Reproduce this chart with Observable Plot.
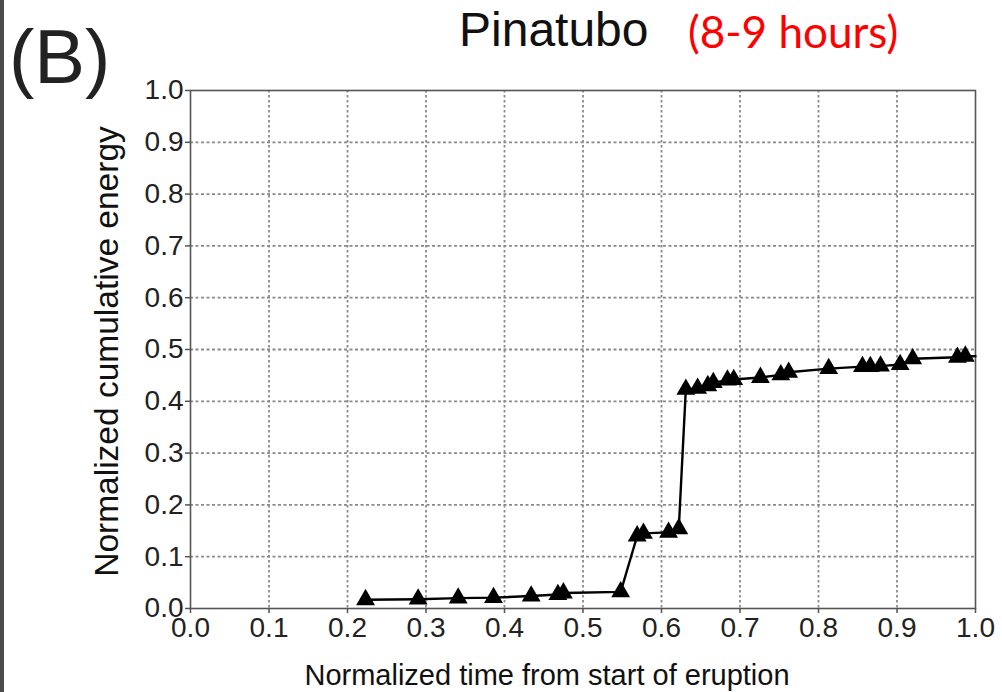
<!DOCTYPE html>
<html><head><meta charset="utf-8">
<script src="https://cdn.jsdelivr.net/npm/d3@7"></script>
<script src="https://cdn.jsdelivr.net/npm/@observablehq/plot@0.6"></script>
<style>
html,body{margin:0;padding:0;background:#fff}
body{width:1002px;height:692px;overflow:hidden;position:relative;font-family:"Liberation Sans",Arial,sans-serif}
#strip{position:absolute;left:0;top:0;width:4px;height:692px;background:#4b4b4b}
.t{position:absolute;white-space:nowrap;line-height:1}
#panel{left:9px;top:19px;font-size:76px;color:#222}
#title{left:459px;top:6px;font-size:48px;color:#111}
#sub{left:688px;top:9px;font-size:44px;color:#ff0000;font-family:Lato,"Open Sans",sans-serif}
#chart{position:absolute;left:0;top:0}
</style>
</head><body>
<div id="chart"></div>
<div id="strip"></div>
<div class="t" id="panel">(B)</div>
<div class="t" id="title">Pinatubo</div>
<div class="t" id="sub">(8-9 hours)</div>
<script>
// Data
const timeValues = [0.223, 0.290, 0.341, 0.386, 0.434, 0.468, 0.475, 0.548,
  0.569, 0.577, 0.609, 0.622,
  0.631, 0.646, 0.659, 0.666, 0.684, 0.692, 0.726, 0.752, 0.762, 0.813,
  0.856, 0.866, 0.879, 0.904, 0.920, 0.977, 0.987];
const energyValues = [0.017, 0.018, 0.020, 0.021, 0.024, 0.027, 0.030, 0.032,
  0.140, 0.145, 0.147, 0.154,
  0.423, 0.425, 0.430, 0.436, 0.441, 0.442, 0.446, 0.451, 0.456, 0.463,
  0.467, 0.467, 0.468, 0.471, 0.482, 0.485, 0.487];
const lineEndTime = 1.0;
const lineEndEnergy = 0.487;
const tickValues = [0, 0.1, 0.2, 0.3, 0.4, 0.5, 0.6, 0.7, 0.8, 0.9, 1.0];
const gridValues = [0.1, 0.2, 0.3, 0.4, 0.5, 0.6, 0.7, 0.8, 0.9];
const xLabel = "Normalized time from start of eruption";
const yLabel = "Normalized cumulative energy";

const points = timeValues.map((t, i) => ({t, e: energyValues[i]}));
const linePts = points.concat([{t: lineEndTime, e: lineEndEnergy}]);
const fmt = d3.format(".1f");

const chart = Plot.plot({
  width: 1002, height: 692,
  marginLeft: 190, marginRight: 27, marginTop: 90, marginBottom: 84,
  style: {fontFamily: "'Liberation Sans', Arial, sans-serif", fontSize: "28px", color: "#222", background: "transparent", overflow: "visible"},
  x: {domain: [0, 1]},
  y: {domain: [0, 1]},
  marks: [
    Plot.gridX(gridValues, {stroke: "#8a8a8a", strokeOpacity: 1, strokeWidth: 1.8, strokeDasharray: "2.5,2.5"}),
    Plot.gridY(gridValues, {stroke: "#8a8a8a", strokeOpacity: 1, strokeWidth: 1.8, strokeDasharray: "3,2.5"}),
    Plot.frame({stroke: "#555", strokeWidth: 1.6}),
    Plot.axisX(tickValues, {tickSize: 5, tickPadding: 4, tickFormat: fmt, stroke: "#555", strokeWidth: 1.5, label: null, fill: "#222"}),
    Plot.axisY(tickValues, {tickSize: 5, tickPadding: 2, tickFormat: fmt, stroke: "#555", strokeWidth: 1.5, label: null, fill: "#222"}),
    Plot.text([xLabel], {text: d => d, frameAnchor: "bottom", textAnchor: "middle", dx: -36, dy: 76, lineAnchor: "bottom", fontSize: 29, fill: "#111"}),
    Plot.text([yLabel], {text: d => d, frameAnchor: "left", textAnchor: "middle", dx: -83, dy: 2, lineAnchor: "middle", rotate: -90, fontSize: 33.5, fill: "#111"}),
    Plot.line(linePts, {x: "t", y: "e", stroke: "#000", strokeWidth: 2.4}),
    Plot.dot(points, {x: "t", y: "e", symbol: "triangle", fill: "#000", stroke: "none", r: 7})
  ]
});
document.getElementById("chart").appendChild(chart);
</script>
</body></html>
